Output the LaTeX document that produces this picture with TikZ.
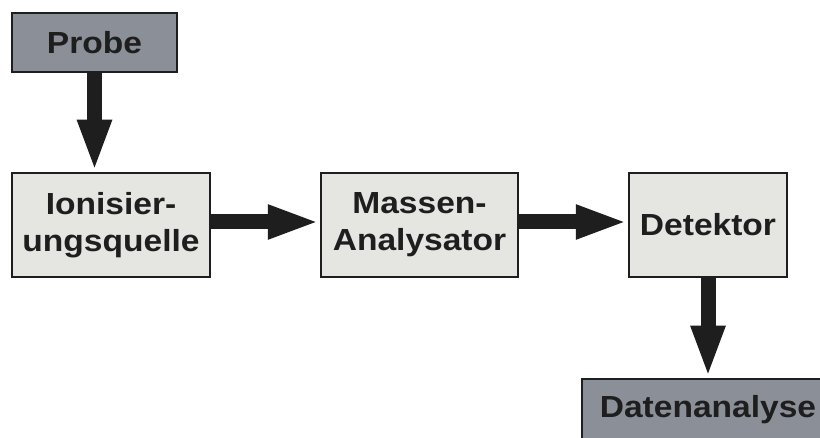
\documentclass[tikz,border=0pt]{standalone}
\usepackage{fontspec}
\setmainfont{Liberation Sans}[FakeStretch=1.1]
\usetikzlibrary{arrows.meta}
\definecolor{darkfill}{RGB}{139,143,152}
\definecolor{lightfill}{RGB}{229,229,225}
\definecolor{edge}{RGB}{30,30,30}
\tikzset{
  boxbase/.style={draw=edge, line width=2.5pt, rectangle, inner sep=0pt, align=center,
    font=\fontsize{30.5}{37}\selectfont\bfseries, text=edge},
  graybox/.style={boxbase, fill=darkfill},
  lightbox/.style={boxbase, fill=lightfill, minimum height=104pt},
  bigarrow/.style={draw=edge, line width=15pt, -{Triangle[length=52pt,width=31pt]}, shorten >=0pt}
}
\begin{document}
\begin{tikzpicture}[x=1pt,y=-1pt]
\useasboundingbox (0,0) rectangle (820,438);
\clip (0,0) rectangle (820,438);
\fill[white] (0,0) rectangle (820,438);
\node[graybox, minimum width=165pt, minimum height=59pt] (probe) at (94.5,42.5) {Probe};
\node[lightbox, minimum width=198pt] (ion) at (111,225) {Ionisier-\\ungsquelle};
\node[lightbox, minimum width=197pt] (mass) at (419.5,225) {Massen-\\Analysator};
\node[lightbox, minimum width=158pt] (det) at (708,225) {Detektor};
\node[graybox, minimum width=252pt, minimum height=62pt] (dat) at (708,410) {Datenanalyse};
\draw[bigarrow] (probe.south) -- (probe.south |- ion.north);
\draw[bigarrow] ([yshift=3pt]ion.east) -- ([yshift=3pt]mass.west);
\draw[bigarrow] ([yshift=3pt]mass.east) -- ([yshift=3pt]det.west);
\draw[bigarrow] (det.south) -- (dat.north);
\end{tikzpicture}
\end{document}
